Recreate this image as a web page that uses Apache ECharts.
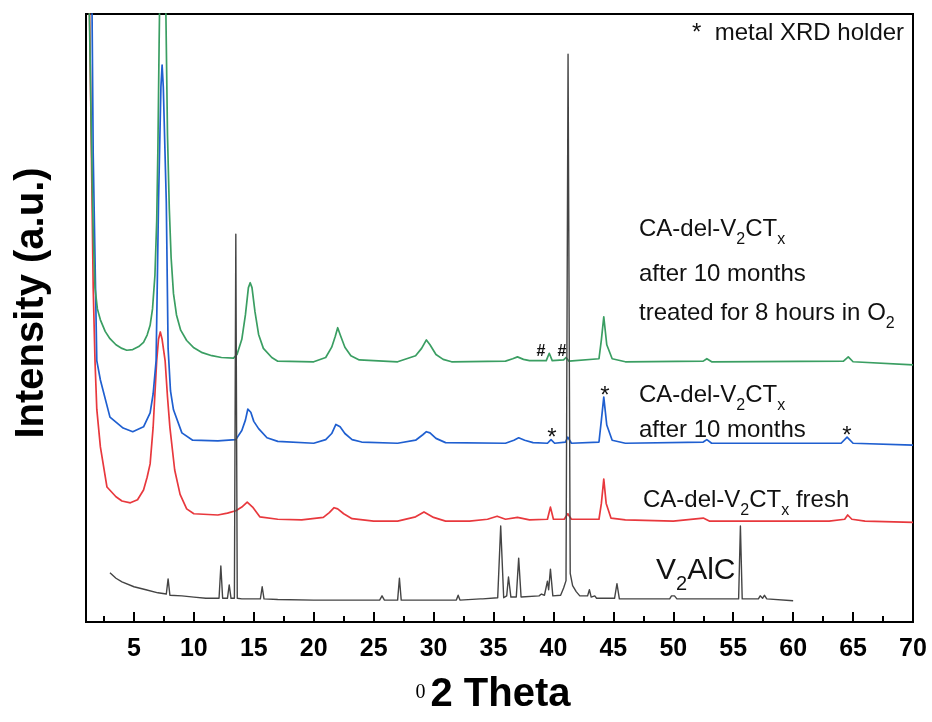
<!DOCTYPE html>
<html>
<head>
<meta charset="utf-8">
<script src="https://cdn.jsdelivr.net/npm/echarts@6/dist/echarts.min.js"></script>
<style>
  html, body { margin: 0; padding: 0; background: #fff; }
</style>
</head>
<body>
<div id="main" style="width: 932px;height: 722px;"></div>
<script>
// [2theta, intensity (a.u., offset)]
var v2alc = [[3.0,8.1],[3.5,7.2],[4,6.6],[5,5.8],[6,5.3],[7,4.8],[7.7,4.6],[7.85,7.1],[8.0,4.4],[9,4.3],[10,4.1],[11,3.9],
  [12.1,3.9],[12.25,9.2],[12.4,3.9],[12.8,3.9],[12.95,6.1],[13.1,3.9],[13.38,3.9],[13.5,63.8],[13.62,3.9],[14,3.8],
  [15.55,3.8],[15.7,5.8],[15.85,3.8],[17,3.7],[20,3.6],[25.5,3.6],[25.7,4.3],[25.9,3.6],[27.0,3.6],[27.15,7.2],[27.3,3.6],
  [31.9,3.6],[32.05,4.4],[32.2,3.6],[33.9,3.8],[34.0,4.1],[34.1,3.8],[35.35,4.0],[35.6,15.8],[35.85,4.0],[36.1,4.3],
  [36.25,7.4],[36.45,4.1],[36.9,4.1],[37.1,10.5],[37.3,4.1],[38.8,4.3],[39.0,4.6],[39.25,4.4],[39.5,6.7],[39.6,5.3],
  [39.75,8.7],[39.95,4.3],[40.6,4.4],[40.85,5.6],[41.05,6.8],[41.22,93.4],[41.4,8.0],[41.6,6.0],[41.9,5.0],[42.2,4.3],
  [42.85,4.3],[43.0,5.3],[43.15,4.1],[43.45,4.3],[43.6,3.9],[45.1,3.9],[45.3,6.3],[45.5,3.8],[49.7,3.8],[49.85,4.3],
  [50.1,4.3],[50.3,3.8],[52.6,3.8],[52.75,4.1],[52.9,3.8],[55.45,3.8],[55.6,15.8],[55.75,3.8],[57.1,3.8],[57.25,4.3],
  [57.45,3.9],[57.6,4.4],[57.8,3.8],[60,3.5]];

var fresh = [[1.0,140],[1.3,100],[1.6,55],[1.75,43],[1.9,35],[2.2,28.8],[2.75,22.2],[3.5,20.6],[4.0,19.9],[4.7,19.6],
  [5.3,20.1],[5.8,21.7],[6.1,23.8],[6.35,26],[6.6,32],[6.9,43],[7.05,46.5],[7.2,47.7],[7.35,46.5],[7.6,43],[7.8,37],
  [8.0,32],[8.4,25],[8.85,21],[9.4,18.6],[10,17.8],[12,17.6],[12.8,17.9],[13.5,18.3],[14.0,18.9],[14.45,19.7],
  [14.9,18.9],[15.5,17.3],[17,16.9],[19,16.8],[20.8,17.2],[21.3,18.0],[21.7,18.8],[22.0,18.6],[22.5,17.8],[23.2,17.0],
  [25,16.6],[27,16.6],[28.5,17.3],[29.2,18.1],[30,17.2],[31,16.6],[33,16.6],[34.5,16.9],[35.3,17.4],[36,16.9],[37,17.2],
  [38,16.8],[39.5,16.9],[39.75,18.9],[40,16.9],[40.9,16.9],[41.2,17.8],[41.5,16.9],[43.8,16.9],[44.0,19.5],[44.2,23.5],
  [44.4,19.5],[44.8,17.1],[46,16.8],[50,16.6],[52.5,17.1],[53,16.6],[58,16.6],[63,16.6],[64.3,16.9],[64.55,17.6],
  [64.9,16.9],[66,16.6],[70,16.4]];

var aged = [[1.0,250],[1.3,150],[1.6,77],[1.9,43],[2.2,39.8],[3.0,33.7],[4.1,31.9],[4.9,31.3],[5.8,32.1],[6.35,34.4],
  [6.6,37.5],[6.85,43],[7.05,69],[7.25,88],[7.35,91.6],[7.45,88],[7.7,69],[7.85,45],[8.05,38],[8.3,34.9],[9.0,31.1],
  [9.9,29.9],[12,29.8],[13.5,30.0],[14.0,31.5],[14.3,33.2],[14.5,35],[14.6,35.2],[14.75,34.5],[15.0,33],[15.4,31.8],
  [16.1,30.3],[17,29.7],[20,29.4],[21.0,30],[21.5,31],[21.85,32.5],[22.0,32.7],[22.2,32.1],[22.6,31],[23.2,30],[24,29.6],
  [27,29.4],[28.5,29.9],[29.1,30.8],[29.4,31.3],[29.7,31.1],[30.2,30.2],[31,29.5],[36,29.4],[36.7,29.9],[37.1,30.3],
  [37.6,29.9],[38.3,29.5],[39.5,29.4],[39.8,30.0],[40.1,29.4],[41.0,29.6],[41.2,30.4],[41.5,29.4],[43.8,29.6],[44.0,33.2],
  [44.2,37.0],[44.45,32.4],[44.9,29.9],[46,29.4],[52.5,29.6],[52.8,30.0],[53.2,29.4],[64,29.4],[64.5,30.4],[65,29.4],
  [70,29.1]];

var treated = [[1.1,200],[1.28,100],[1.45,80],[1.6,64],[1.75,55],[1.95,51.5],[2.2,49.7],[2.6,47.8],[3.0,46.6],
  [3.5,45.6],[4.0,45.0],[4.4,44.7],[4.9,44.8],[5.4,45.3],[5.8,46.0],[6.1,47.2],[6.35,48.8],[6.55,51.5],[6.75,57],
  [6.9,66],[7.0,78],[7.1,95],[7.2,110],[7.4,125],[7.6,110],[7.7,95],[7.8,80],[7.95,68],[8.1,60],[8.3,54],[8.55,50.5],
  [8.9,48],[9.4,46.3],[10.0,45.1],[10.7,44.3],[11.5,43.8],[12.3,43.5],[13.3,43.4],[13.6,44],[14.0,46.5],[14.3,50.5],
  [14.55,55],[14.7,55.8],[14.85,55],[15.1,51],[15.4,47.3],[15.8,45],[16.5,43.5],[17,42.9],[20,42.8],[21.0,43.5],
  [21.5,45.2],[21.8,47],[22.0,48.4],[22.2,47.3],[22.6,45.2],[23.1,43.8],[23.8,43.1],[27,42.8],[28.5,43.8],[29.0,45],
  [29.4,46.4],[29.7,45.6],[30.2,44],[30.8,43.2],[31.5,42.8],[36,42.9],[36.6,43.3],[37.0,43.6],[37.5,43.2],[38,43.0],
  [39.4,43.0],[39.65,44.2],[39.9,43.0],[40.85,43.1],[41.05,43.5],[41.3,42.9],[43.8,43.3],[44.0,46.4],[44.2,50.2],
  [44.45,45.6],[44.9,43.3],[46,42.8],[52.5,42.9],[52.8,43.3],[53.2,42.8],[64.2,42.9],[64.6,43.6],[65,42.8],[70,42.3]];

var majorTicks = [5, 10, 15, 20, 25, 30, 35, 40, 45, 50, 55, 60, 65, 70];
var minorTicks = [2.5, 7.5, 12.5, 17.5, 22.5, 27.5, 32.5, 37.5, 42.5, 47.5, 52.5, 57.5, 62.5, 67.5];

var FONT = 'Liberation Sans, Arial, sans-serif';
var chart = echarts.init(document.getElementById('main'));

function sub(size, pad) {
  return { fontSize: size, fontFamily: FONT, fill: '#111', verticalAlign: 'middle', padding: [pad, 0, 0, 0] };
}
var labelRich = {
  n: { fontSize: 24, fontFamily: FONT, fill: '#111', verticalAlign: 'middle' },
  s: sub(16, 22)
};
function label(x, y, txt, rich) {
  return {
    type: 'text', x: x, y: y, z: 100,
    style: { text: txt, rich: rich || labelRich, fill: '#111', font: '24px ' + FONT,
      align: 'left', verticalAlign: 'middle', textAlign: 'left', textVerticalAlign: 'middle' }
  };
}
function mark(x, y, txt, size, weight) {
  return {
    type: 'text', x: x, y: y, z: 100,
    style: { text: txt, fill: '#111', font: (weight || 'normal') + ' ' + size + 'px ' + FONT,
      align: 'center', verticalAlign: 'middle', textAlign: 'center', textVerticalAlign: 'middle' }
  };
}

function line(name, data, color, width) {
  return {
    name: name, type: 'line', data: data, showSymbol: false, symbol: 'none',
    clip: true, silent: true,
    lineStyle: { color: color, width: width, join: 'round' }
  };
}

var option = {
  animation: false,
  backgroundColor: '#fff',
  grid: { left: 86, right: 19, top: 14, bottom: 100, show: true, borderColor: '#000', borderWidth: 2,
    outerBoundsMode: 'none', containLabel: false },
  xAxis: [{
    type: 'value', min: 1, max: 70, position: 'bottom',
    axisLine: { show: true, lineStyle: { color: '#000', width: 2 } },
    axisTick: { show: true, inside: true, length: 10, customValues: majorTicks, lineStyle: { color: '#000', width: 2 } },
    axisLabel: { customValues: majorTicks, fontSize: 25, fontWeight: 'bold', color: '#000', fontFamily: FONT, margin: 15 },
    splitLine: { show: false }
  }, {
    type: 'value', min: 1, max: 70, position: 'bottom',
    axisLine: { show: false },
    axisTick: { show: true, inside: true, length: 6, customValues: minorTicks, lineStyle: { color: '#000', width: 2 } },
    axisLabel: { show: false },
    splitLine: { show: false }
  }],
  yAxis: {
    type: 'value', min: 0, max: 100,
    axisLine: { show: true, lineStyle: { color: '#000', width: 2 } },
    axisTick: { show: false }, axisLabel: { show: false }, splitLine: { show: false }
  },
  series: [
    line('CA-del-V2CTx fresh', fresh, '#e8383d', 1.7),
    line('CA-del-V2CTx after 10 months', aged, '#1f5fd0', 1.7),
    line('CA-del-V2CTx after 10 months treated for 8 hours in O2', treated, '#3a9e62', 1.7),
    line('V2AlC', v2alc, '#444444', 1.4)
  ],
  graphic: [
    label(692, 33, '{n|*  metal XRD holder}'),
    label(639, 229, '{n|CA-del-V}{s|2}{n|CT}{s|x}'),
    label(639, 274, '{n|after 10 months}'),
    label(639, 313, '{n|treated for 8 hours in O}{s|2}'),
    label(639, 395, '{n|CA-del-V}{s|2}{n|CT}{s|x}'),
    label(639, 430, '{n|after 10 months}'),
    label(643, 500, '{n|CA-del-V}{s|2}{n|CT}{s|x}{n| fresh}'),
    label(656, 571, '{n|V}{s|2}{n|AlC}', {
      n: { fontSize: 30, fontFamily: FONT, fill: '#111', verticalAlign: 'middle' },
      s: sub(20, 26)
    }),
    mark(541, 352, '#', 16, 'bold'),
    mark(562, 352, '#', 16, 'bold'),
    mark(552, 438, '*', 24),
    mark(605, 396, '*', 24),
    mark(847, 436, '*', 24),
    {
      type: 'text', x: 32, y: 303, rotation: Math.PI / 2, z: 100,
      style: { text: 'Intensity (a.u.)', fill: '#000', font: 'bold 40px ' + FONT,
        align: 'center', verticalAlign: 'middle', textAlign: 'center', textVerticalAlign: 'middle' }
    },
    {
      type: 'text', x: 493, y: 695, z: 100,
      style: {
        text: '{o|0}{t|2 Theta}', fill: '#000', font: 'bold 40px ' + FONT,
        align: 'center', verticalAlign: 'middle', textAlign: 'center', textVerticalAlign: 'middle',
        rich: {
          o: { fontSize: 20, fontFamily: 'Liberation Serif, serif', fill: '#000', verticalAlign: 'middle', padding: [0, 5, 4, 0] },
          t: { fontSize: 40, fontWeight: 'bold', fontFamily: FONT, fill: '#000', verticalAlign: 'middle' }
        }
      }
    }
  ]
};
option && chart.setOption(option);
</script>
</body>
</html>
